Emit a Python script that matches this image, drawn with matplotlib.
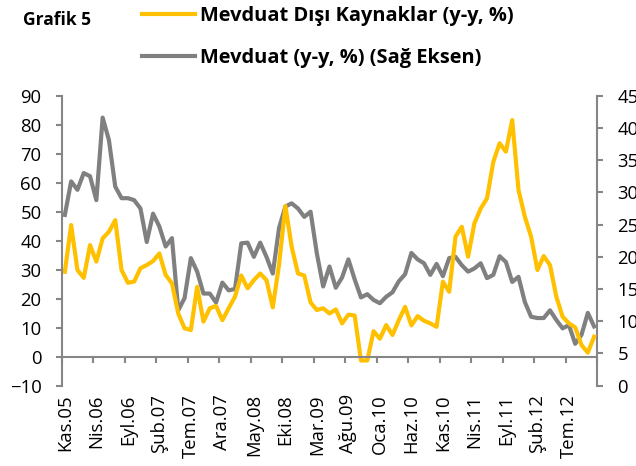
import numpy as np
import matplotlib.pyplot as plt
from matplotlib.lines import Line2D

plt.rcParams['font.family'] = ['Open Sans', 'DejaVu Sans']

# monthly data, Kas.05 - Kas.12
month_names = ['Oca', 'Şub', 'Mar', 'Nis', 'May', 'Haz',
               'Tem', 'Ağu', 'Eyl', 'Eki', 'Kas', 'Ara']
start_year = 2005
start_month = 10  # Kas

# Mevduat Disi Kaynaklar (y-y, %) - left axis
non_deposit = [29.3, 45.4, 29.9, 27.2, 38.5, 32.8, 40.8, 43.1, 47.1, 29.9,
               25.5, 25.9, 30.5, 31.6, 33.0, 35.6, 28.2, 25.3, 14.9, 9.8,
               9.2, 24.1, 12.1, 16.7, 17.5, 12.6, 16.7, 20.7, 28.0, 23.6,
               26.4, 28.7, 26.4, 17.0, 31.8, 52.0, 37.9, 28.7, 28.0, 18.7,
               16.1, 16.7, 14.9, 16.3, 11.5, 14.5, 14.2, -1.3, -1.3, 8.8,
               6.2, 10.9, 7.5, 12.6, 17.2, 10.8, 14.0, 12.4, 11.5, 10.3,
               25.9, 22.4, 41.4, 44.8, 34.5, 46.0, 51.1, 54.6, 67.2, 73.6,
               70.7, 81.6, 57.5, 48.3, 41.4, 29.9, 34.7, 31.6, 20.7, 13.8,
               11.5, 10.1, 4.0, 1.4, 6.9]

# Mevduat (y-y, %) - right axis
deposit = [26.5, 31.7, 30.4, 33.0, 32.5, 28.8, 41.6, 38.1, 30.9, 29.1,
           29.1, 28.8, 27.5, 22.3, 26.7, 24.7, 21.6, 22.9, 11.7, 13.6,
           19.8, 17.7, 14.3, 14.3, 12.9, 16.0, 14.8, 15.0, 22.1, 22.2,
           20.0, 22.2, 20.0, 17.4, 24.5, 27.8, 28.3, 27.5, 26.2, 27.0,
           20.5, 15.4, 18.5, 15.2, 16.8, 19.6, 16.5, 13.7, 14.2, 13.3,
           12.8, 13.8, 14.5, 16.2, 17.3, 20.6, 19.6, 19.0, 17.2, 18.9,
           17.0, 19.8, 20.0, 18.7, 17.7, 18.2, 19.0, 16.7, 17.2, 20.1,
           19.2, 16.1, 16.9, 13.0, 10.7, 10.5, 10.5, 11.7, 10.2, 8.9,
           9.4, 6.5, 7.9, 11.3, 9.2]

labels = []
for k in range(len(deposit)):
    m = (start_month + k) % 12
    y = start_year + (start_month + k) // 12
    labels.append('%s.%02d' % (month_names[m], y % 100))

x = np.arange(len(deposit))
yellow = '#FFC000'
grey = '#808080'
spine_col = '#868686'
fs = 13.3

fig = plt.figure(figsize=(6.36, 4.66), dpi=100)
ax = fig.add_axes([0.0970, 0.1723, 0.8421, 0.6223])
ax2 = ax.twinx()

ax.plot(x, non_deposit, color=yellow, lw=3, solid_joinstyle='round')
ax2.plot(x, deposit, color=grey, lw=3, solid_joinstyle='round')

# yellow drawn above grey
ax.set_zorder(ax2.get_zorder() + 1)
ax.patch.set_visible(False)

ax.set_xlim(-0.5, len(x) - 0.5)
ax.set_ylim(-10, 90)
ax.set_yticks(np.arange(-10, 91, 10))
ax2.set_ylim(0, 45)
ax2.set_yticks(np.arange(0, 46, 5))

# category axis crosses at 0, labels at the bottom
ax.spines['bottom'].set_position(('data', 0))
ax.set_xticks(x[::5])
ax.set_xticklabels(labels[::5], rotation=90)
ax.set_xticks(np.arange(-0.5, len(x), 5), minor=True)
ax.tick_params(axis='x', which='major', length=0, pad=27, labelsize=fs)
ax.tick_params(axis='x', which='minor', length=4.5, width=1.5, color=spine_col)

ax.tick_params(axis='y', length=4.5, width=1.5, color=spine_col, pad=10, labelsize=fs)
ax2.tick_params(axis='y', length=4.5, width=1.5, color=spine_col, pad=10, labelsize=fs)

for a in (ax, ax2):
    a.spines['top'].set_visible(False)
    for s in a.spines.values():
        s.set_color(spine_col)
        s.set_linewidth(1.5)
ax.spines['right'].set_visible(False)
ax2.spines['left'].set_visible(False)
ax2.spines['bottom'].set_visible(False)

fig.text(0.036, 0.957, 'Grafik 5', fontsize=12.5, fontweight='bold', va='center')

handles = [Line2D([], [], color=yellow, lw=3),
           Line2D([], [], color=grey, lw=3)]
fig.legend(handles, ['Mevduat Dışı Kaynaklar (y-y, %)', 'Mevduat (y-y, %) (Sağ Eksen)'],
           loc='upper left', bbox_to_anchor=(0.2233, 0.987), frameon=False,
           prop={'size': 14.4, 'weight': 'bold'}, handlelength=2.65,
           handletextpad=0.25, labelspacing=1.1, borderaxespad=0, borderpad=0)

fig.savefig('out.png', dpi=100)
